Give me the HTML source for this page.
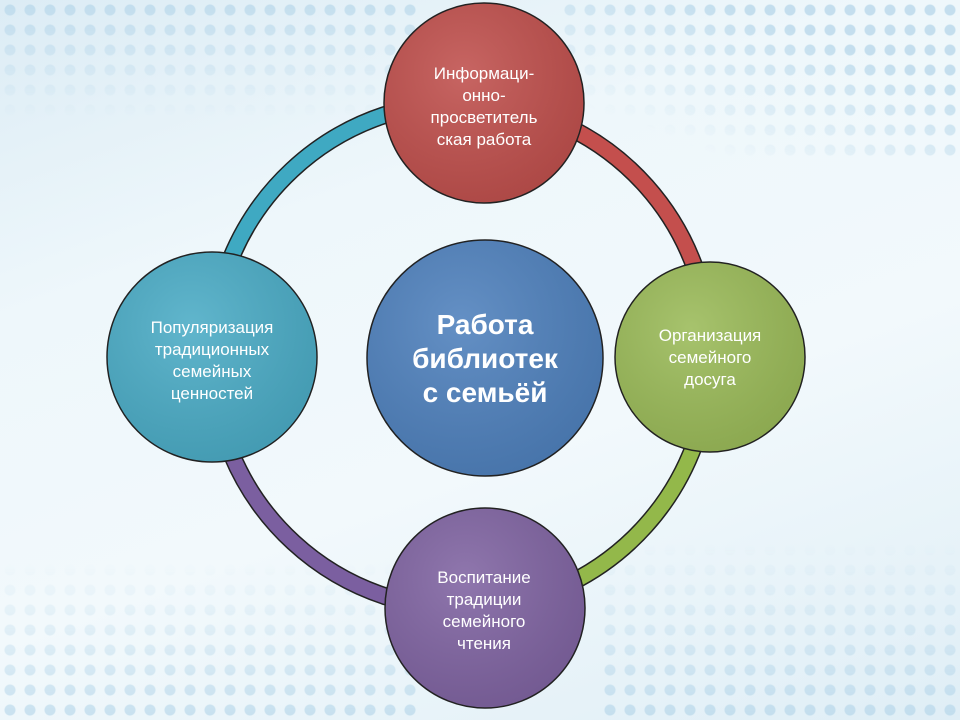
<!DOCTYPE html>
<html><head><meta charset="utf-8"><style>
html,body{margin:0;padding:0}
body{width:960px;height:720px;overflow:hidden;position:relative;font-family:"Liberation Sans","DejaVu Sans",sans-serif;
background:linear-gradient(160deg,#dcecf5 0%,#eef7fb 30%,#f2f9fc 60%,#dfeef6 100%);}
.dots{position:absolute;background-image:radial-gradient(circle,#a9cfe6 5px,transparent 6px);background-size:20px 20px;}
</style></head><body>
<div class="dots" style="left:0;top:0;width:420px;height:120px;opacity:.55;-webkit-mask-image:linear-gradient(to bottom,#000,transparent);"></div>
<div class="dots" style="left:560px;top:0;width:400px;height:160px;opacity:.6;-webkit-mask-image:linear-gradient(200deg,#000 30%,transparent 80%);"></div>
<div class="dots" style="left:0;top:560px;width:420px;height:160px;opacity:.55;-webkit-mask-image:linear-gradient(to top,#000,transparent);"></div>
<div class="dots" style="left:600px;top:540px;width:360px;height:180px;opacity:.55;-webkit-mask-image:linear-gradient(to top,#000,transparent);"></div>
<svg width="960" height="720" style="position:absolute;left:0;top:0">
<defs>
<radialGradient id="g" cx="40%" cy="35%" r="70%"><stop offset="0" stop-color="#fff" stop-opacity=".12"/><stop offset="1" stop-color="#000" stop-opacity=".1"/></radialGradient>
</defs>
<g fill="none" stroke-width="18">
<path d="M212 357 A252 252 0 0 1 484 103" stroke="#222"/>
<path d="M484 103 A252 252 0 0 1 710 357" stroke="#222"/>
<path d="M710 357 A252 252 0 0 1 485 608" stroke="#222"/>
<path d="M485 608 A252 252 0 0 1 212 357" stroke="#222"/>
</g>
<g fill="none" stroke-width="15">
<path d="M212 357 A252 252 0 0 1 484 103" stroke="#3fa9c2"/>
<path d="M484 103 A252 252 0 0 1 710 357" stroke="#c44f4d"/>
<path d="M710 357 A252 252 0 0 1 485 608" stroke="#93b84a"/>
<path d="M485 608 A252 252 0 0 1 212 357" stroke="#7b5fa0"/>
</g>
<g stroke="#222" stroke-width="1.5">
<circle cx="485" cy="358" r="118" fill="#4f81bd"/>
<circle cx="484" cy="103" r="100" fill="#c0504d"/>
<circle cx="710" cy="357" r="95" fill="#9bbb59"/>
<circle cx="485" cy="608" r="100" fill="#8064a2"/>
<circle cx="212" cy="357" r="105" fill="#4bacc6"/>
</g>
<g fill="url(#g)">
<circle cx="485" cy="358" r="117"/><circle cx="484" cy="103" r="99"/><circle cx="710" cy="357" r="94"/><circle cx="485" cy="608" r="99"/><circle cx="212" cy="357" r="104"/>
</g>
<g fill="#fff" font-family="Liberation Sans,DejaVu Sans,sans-serif" font-size="17" text-anchor="middle">
<text x="484" y="79">Информаци-</text><text x="484" y="101">онно-</text><text x="484" y="123">просветитель</text><text x="484" y="145">ская работа</text>
<text x="710" y="341">Организация</text><text x="710" y="363">семейного</text><text x="710" y="385">досуга</text>
<text x="484" y="583">Воспитание</text><text x="484" y="605">традиции</text><text x="484" y="627">семейного</text><text x="484" y="649">чтения</text>
<text x="212" y="333">Популяризация</text><text x="212" y="355">традиционных</text><text x="212" y="377">семейных</text><text x="212" y="399">ценностей</text>
<g font-weight="bold" font-size="28"><text x="485" y="334">Работа</text><text x="485" y="368">библиотек</text><text x="485" y="402">с семьёй</text></g>
</g>
</svg>
</body></html>
